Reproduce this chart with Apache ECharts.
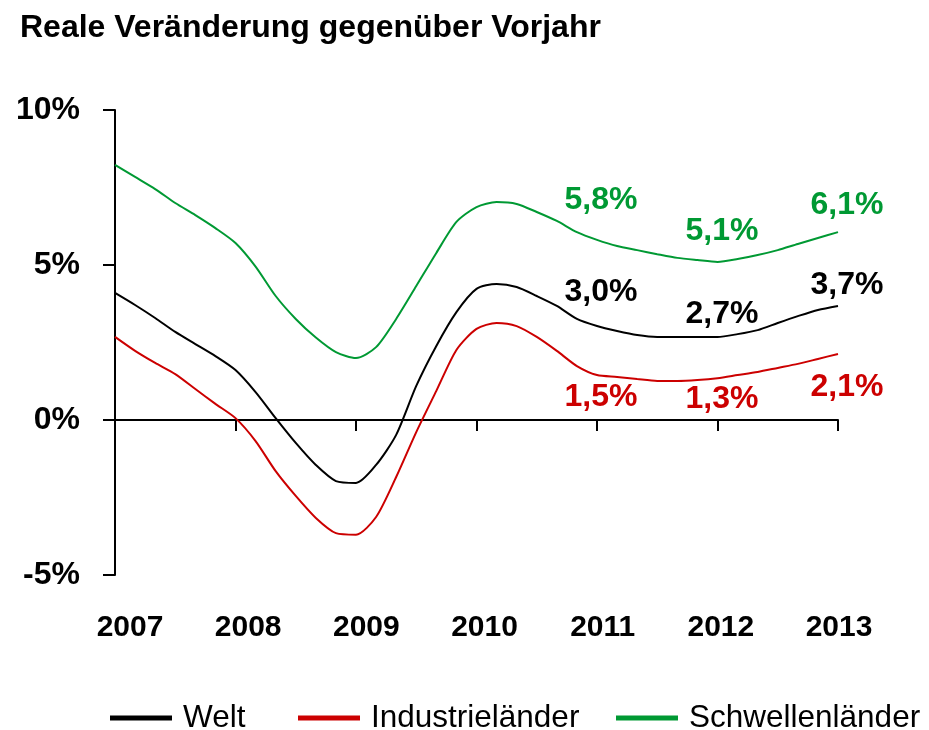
<!DOCTYPE html>
<html>
<head>
<meta charset="utf-8">
<script src="https://cdn.jsdelivr.net/npm/echarts@6/dist/echarts.min.js"></script>
<style>
html,body{margin:0;padding:0;background:#fff;}
#chart{width:929px;height:730px;}
</style>
</head>
<body>
<div id="chart"></div>
<script>
// ---- data ----
const years = ['2007','2008','2009','2010','2011','2012','2013'];
const months = ['01','03','05','07','09','11'];
const seriesNames = ['Welt','Industrieländer','Schwellenländer'];
// bi-monthly values, Jan 2007 .. Jan 2013 (%)
const welt = [4.10,3.71,3.29,2.84,2.45,2.06,1.61,0.90,0.06,-0.74,-1.45,-1.97,-2.03,-1.45,-0.48,1.10,2.39,3.48,4.23,4.39,4.29,4.00,3.68,3.26,3.03,2.87,2.74,2.68,2.68,2.68,2.68,2.77,2.90,3.13,3.35,3.55,3.68];
const industrie = [2.68,2.23,1.84,1.48,1.00,0.52,0.06,-0.68,-1.65,-2.45,-3.16,-3.65,-3.70,-3.13,-1.84,-0.39,0.94,2.26,2.94,3.13,3.03,2.68,2.23,1.74,1.45,1.39,1.32,1.26,1.26,1.29,1.35,1.45,1.55,1.68,1.81,1.97,2.13];
const schwellen = [8.23,7.84,7.45,7.00,6.61,6.19,5.71,4.95,4.00,3.26,2.66,2.19,2.00,2.35,3.26,4.32,5.39,6.39,6.87,7.03,6.97,6.71,6.42,6.06,5.81,5.61,5.48,5.35,5.23,5.16,5.10,5.19,5.32,5.48,5.68,5.87,6.06];
// annual labels (2011, 2012, 2013)
const labelYears = ['2011','2012','2013'];
const weltAnnual = [3.0, 2.7, 3.7];
const industrieAnnual = [1.5, 1.3, 2.1];
const schwellenAnnual = [5.8, 5.1, 6.1];
const yTicks = [-5, 0, 5, 10];

// ---- build ----
const categories = [];
years.forEach(function (y, i) {
  if (i < years.length - 1) months.forEach(function (m) { categories.push(y + '-' + m); });
  else categories.push(y + '-01');
});

const FONT = "'Liberation Sans', Arial, sans-serif";
const colors = ['#000000', '#cc0000', '#009933'];

function fmt(v) { return v.toFixed(1).replace('.', ',') + '%'; }

function buildData(values, annual, color, offsets) {
  return values.map(function (v, i) {
    const cat = categories[i];
    const li = labelYears.indexOf(cat.slice(0, 4));
    if (li >= 0 && cat.slice(5) === '01') {
      return {
        value: v,
        label: {
          show: true,
          position: 'inside',
          offset: offsets[li],
          formatter: fmt(annual[li]),
          color: color,
          fontFamily: FONT,
          fontWeight: 'bold',
          fontSize: 32,
          align: 'center',
          verticalAlign: 'middle'
        }
      };
    }
    return v;
  });
}

const weltOff = [[4, -34], [4.5, -23], [9, -21]];
const indOff = [[4, 22.5], [4.5, 21], [9, 33.5]];
const schOff = [[4, -40], [4.5, -31], [9, -26.5]];

function lineSeries(name, values, annual, color, offs) {
  return {
    name: name,
    type: 'line',
    xAxisIndex: 0,
    yAxisIndex: 0,
    data: buildData(values, annual, color, offs),
    smooth: 0.25,
    showSymbol: true,
    showAllSymbol: true,
    symbol: 'circle',
    symbolSize: 0,
    lineStyle: { color: color, width: 2 },
    itemStyle: { color: color },
    emphasis: { disabled: true },
    z: 3
  };
}

function legendAt(name, left) {
  return {
    data: [name],
    left: left,
    top: 702,
    padding: 0,
    icon: 'rect',
    itemWidth: 62,
    itemHeight: 5,
    selectedMode: false,
    textStyle: { fontFamily: FONT, fontSize: 31.5, color: '#000', padding: [0, 0, 0, 6] }
  };
}

const option = {
  animation: false,
  backgroundColor: '#ffffff',
  color: colors,
  title: {
    text: 'Reale Veränderung gegenüber Vorjahr',
    left: 15,
    top: 7,
    textStyle: { fontFamily: FONT, fontWeight: 'bold', fontSize: 32, color: '#000' }
  },
  legend: [legendAt('Welt', 110), legendAt('Industrieländer', 298), legendAt('Schwellenländer', 616)],
  grid: [
    { left: 115, top: 110, width: 723, height: 465 },
    { left: 130, top: 110, width: 709, height: 465 }
  ],
  xAxis: [
    {
      gridIndex: 0,
      type: 'category',
      data: categories,
      boundaryGap: false,
      axisLine: { show: true, onZero: true, lineStyle: { color: '#000', width: 2 } },
      axisTick: { show: true, interval: 5, length: 11, lineStyle: { color: '#000', width: 2 } },
      axisLabel: { show: false },
      splitLine: { show: false }
    },
    {
      gridIndex: 1,
      type: 'category',
      data: categories,
      boundaryGap: false,
      position: 'bottom',
      axisLine: { show: false, onZero: false },
      axisTick: { show: false },
      axisLabel: {
        show: true,
        interval: 5,
        margin: 38,
        formatter: function (v) { return v.slice(0, 4); },
        fontFamily: FONT, fontWeight: 'bold', fontSize: 30, color: '#000'
      },
      splitLine: { show: false }
    }
  ],
  yAxis: [
    {
      gridIndex: 0,
      type: 'value',
      min: yTicks[0],
      max: yTicks[yTicks.length - 1],
      interval: 5,
      axisLine: { show: true, lineStyle: { color: '#000', width: 2 } },
      axisTick: { show: true, length: 12, lineStyle: { color: '#000', width: 2 } },
      axisLabel: {
        margin: 35,
        formatter: '{value}%',
        fontFamily: FONT, fontWeight: 'bold', fontSize: 32, color: '#000'
      },
      splitLine: { show: false }
    },
    { gridIndex: 1, type: 'value', min: -5, max: 10, show: false }
  ],
  series: [
    lineSeries(seriesNames[0], welt, weltAnnual, colors[0], weltOff),
    lineSeries(seriesNames[1], industrie, industrieAnnual, colors[1], indOff),
    lineSeries(seriesNames[2], schwellen, schwellenAnnual, colors[2], schOff)
  ]
};

const chart = echarts.init(document.getElementById('chart'), null, { renderer: 'canvas' });
chart.setOption(option);
</script>
</body>
</html>
